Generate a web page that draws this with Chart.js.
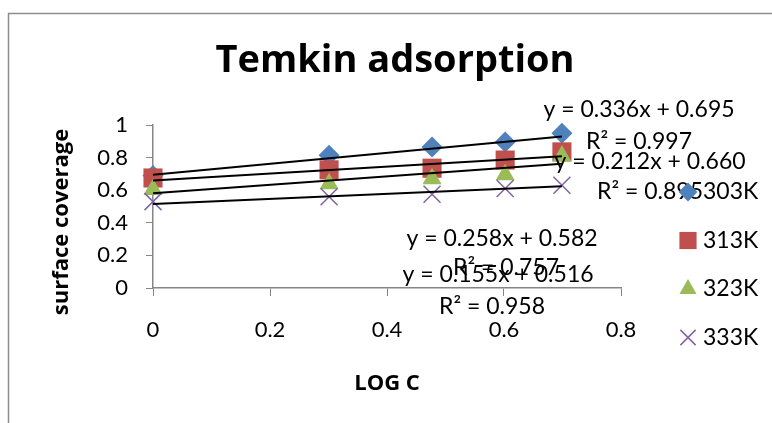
<!DOCTYPE html>
<html>
<head>
<meta charset="utf-8">
<script src="https://cdn.jsdelivr.net/npm/chart.js@4.4.1/dist/chart.umd.min.js"></script>
<style>
html, body { margin: 0; padding: 0; background: #fff; }
#contenedor { width: 772px; height: 423px; }
</style>
</head>
<body>
<div id="contenedor"><canvas id="grafica" width="772" height="423"></canvas></div>
<script>
// datos
const log_c = [0, 0.301, 0.477, 0.602, 0.699]
const series = ["303K", "313K", "323K", "333K"]
const cobertura_303 = [0.69, 0.815, 0.865, 0.895, 0.95]
const cobertura_313 = [0.675, 0.725, 0.735, 0.785, 0.835]
const cobertura_323 = [0.605, 0.64, 0.67, 0.695, 0.81]
const cobertura_333 = [0.53, 0.56, 0.575, 0.61, 0.63]
// lineas de tendencia (ecuaciones de la grafica)
const pendientes = [0.336, 0.212, 0.258, 0.155]
const interceptos = [0.695, 0.660, 0.582, 0.516]
const r_cuadrado = ["0.997", "0.895", "0.757", "0.958"]
const ticks_x = [0, 0.2, 0.4, 0.6, 0.8]
const ticks_y = [0, 0.2, 0.4, 0.6, 0.8, 1]

const colores = ["#4F81BD", "#C0504D", "#9BBB59", "#8064A2"]
const estilos_punto = ["rectRot", "rect", "triangle", "crossRot"]
const radios = [10.5, 13.5, 11, 12]
const fuente = "Lato"
const fuente_negrita = "'Open Sans'"

// posiciones de las etiquetas de tendencia [x, y] en pixeles
const pos_ecuacion = [[639, 110], [650, 162], [502, 239], [498, 275]]
const pos_r2 = [[639, 142], [650, 192], [506, 268], [492, 307]]

const todas_coberturas = [cobertura_303, cobertura_313, cobertura_323, cobertura_333]

function formato(n) {
    return n.toFixed(3)
}

let datasets = []
todas_coberturas.forEach((valores, i) => {
    datasets.push({
        label: series[i],
        data: log_c.map((x, j) => ({ x: x, y: valores[j] })),
        pointStyle: estilos_punto[i],
        pointRadius: radios[i],
        pointHoverRadius: radios[i],
        backgroundColor: colores[i],
        borderColor: colores[i],
        borderWidth: i == 3 ? 1.5 : 0,
        showLine: false,
        clip: false,
        order: 4 - i
    })
})
pendientes.forEach((m, i) => {
    let x0 = log_c[0], x1 = log_c[log_c.length - 1]
    datasets.push({
        label: "tendencia " + series[i],
        data: [{ x: x0, y: m * x0 + interceptos[i] }, { x: x1, y: m * x1 + interceptos[i] }],
        showLine: true,
        borderColor: "#000",
        borderWidth: 2,
        pointRadius: 0,
        clip: false,
        order: 0
    })
})

const dibujos_extra = {
    id: "dibujos_extra",
    beforeDraw(chart) {
        const ctx = chart.ctx
        ctx.save()
        ctx.fillStyle = "#fff"
        ctx.fillRect(0, 0, chart.width, chart.height)
        ctx.strokeStyle = "#8c8c8c"
        ctx.lineWidth = 1.5
        ctx.beginPath()
        ctx.moveTo(8.5, chart.height)
        ctx.lineTo(8.5, 13.5)
        ctx.lineTo(chart.width, 13.5)
        ctx.stroke()
        ctx.restore()
    },
    afterDraw(chart) {
        const ctx = chart.ctx
        ctx.save()
        ctx.fillStyle = "#000"
        ctx.textAlign = "center"
        ctx.textBaseline = "alphabetic"
        ctx.font = "bold 38px " + fuente_negrita
        ctx.fillText("Temkin adsorption", 395, 72)

        // titulo eje y
        ctx.save()
        ctx.translate(62, 222)
        ctx.rotate(-Math.PI / 2)
        ctx.textBaseline = "middle"
        ctx.font = "bold 22px " + fuente_negrita
        ctx.fillText("surface coverage", 0, 0)
        ctx.restore()

        // ecuaciones
        ctx.textBaseline = "middle"
        ctx.font = "23px " + fuente
        pendientes.forEach((m, i) => {
            ctx.fillText("y = " + formato(m) + "x + " + formato(interceptos[i]), pos_ecuacion[i][0], pos_ecuacion[i][1])
            ctx.fillText("R\u00B2 = " + r_cuadrado[i], pos_r2[i][0], pos_r2[i][1])
        })

        // leyenda
        ctx.textAlign = "left"
        series.forEach((nombre, i) => {
            let y = 192 + i * 48.5
            ctx.fillStyle = colores[i]
            ctx.strokeStyle = colores[i]
            if (Chart.helpers && Chart.helpers.drawPoint) {
                Chart.helpers.drawPoint(ctx, { pointStyle: estilos_punto[i], radius: radios[i] * 0.9, rotation: 0, borderWidth: i == 3 ? 1.5 : 0 }, 688, y)
            }
            ctx.fillStyle = "#000"
            ctx.fillText(nombre, 703, y)
        })
        ctx.restore()
    }
}

const grafica = new Chart(document.getElementById("grafica"), {
    type: "scatter",
    data: { datasets: datasets },
    options: {
        responsive: false,
        animation: false,
        devicePixelRatio: 1,
        layout: { padding: { left: 0, top: 125, right: 151, bottom: 0 } },
        plugins: {
            legend: { display: false },
            tooltip: { enabled: false },
            title: { display: false }
        },
        scales: {
            x: {
                type: "linear",
                min: 0, max: 0.8,
                afterBuildTicks: s => { s.ticks = ticks_x.map(v => ({ value: v })) },
                afterFit: s => { s.height = 135 },
                grid: { drawOnChartArea: false, drawTicks: true, tickLength: 8, color: "#868686" },
                border: { color: "#868686", width: 1.5 },
                ticks: { color: "#000", font: { family: fuente, size: 22 }, padding: 21, maxRotation: 0, callback: v => String(v) },
                title: { display: true, text: "LOG C", color: "#000", font: { family: fuente_negrita, size: 22, weight: "bold" }, padding: { top: 0, bottom: 26 } }
            },
            y: {
                type: "linear",
                min: 0, max: 1,
                afterBuildTicks: s => { s.ticks = ticks_y.map(v => ({ value: v })) },
                afterFit: s => { s.width = 153 },
                grid: { drawOnChartArea: false, drawTicks: true, tickLength: 7, color: "#868686" },
                border: { color: "#868686", width: 1.5 },
                ticks: { color: "#000", font: { family: fuente, size: 22 }, padding: 18, callback: v => String(v) }
            }
        }
    },
    plugins: [dibujos_extra]
})
</script>
</body>
</html>
